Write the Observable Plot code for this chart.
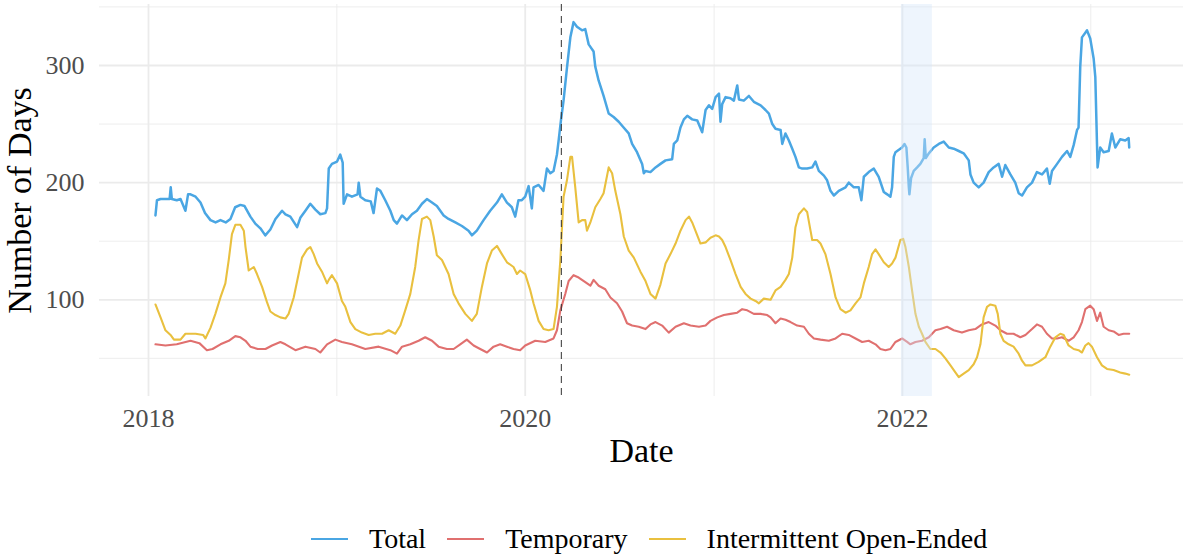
<!DOCTYPE html>
<html>
<head>
<meta charset="utf-8">
<script src="https://cdn.jsdelivr.net/npm/d3@7"></script>
<script src="https://cdn.jsdelivr.net/npm/@observablehq/plot@0.6"></script>
<style>
  body { margin: 0; background: #fff; font-family: "Liberation Serif", "Times New Roman", serif; }
  #chart { position: relative; width: 1186px; height: 556px; }
  #chart svg { display: block; }
  .legend { position: absolute; left: 311px; top: 522px; height: 34px; display: flex; align-items: center; font-size: 28px; color: #000; white-space: nowrap; }
  .legend .item { display: flex; align-items: center; margin-right: 21px; }
  .legend .key { width: 37px; height: 2px; margin-right: 21px; }
</style>
</head>
<body>
<div id="chart"></div>
<script>
// Series labels and colours
const seriesNames = ["Total", "Temporary", "Intermittent Open-Ended"];
const seriesColors = ["#4aa6e3", "#e0706f", "#e9c03f"];

// [decimal year, number of days]
const total = [
  [2018.037,172],[2018.045,185],[2018.064,186],[2018.090,186],[2018.112,186],[2018.118,196],[2018.124,186],
  [2018.150,185],[2018.170,186],[2018.196,176],[2018.210,190],[2018.223,190],[2018.250,188],[2018.276,183],
  [2018.300,174],[2018.329,168],[2018.356,166],[2018.382,168],[2018.410,166],[2018.435,169],[2018.460,179],
  [2018.488,181],[2018.510,180],[2018.541,171],[2018.567,165],[2018.594,161],[2018.620,155],[2018.647,160],
  [2018.674,169],[2018.709,176],[2018.727,173],[2018.753,171],[2018.789,162],[2018.806,170],[2018.833,176],
  [2018.859,182],[2018.886,177],[2018.912,173],[2018.939,174],[2018.948,178],[2018.957,212],[2018.974,216],
  [2019.001,218],[2019.018,224],[2019.031,217],[2019.036,182],[2019.054,190],[2019.080,188],[2019.110,190],
  [2019.116,200],[2019.125,188],[2019.151,185],[2019.180,184],[2019.195,174],[2019.213,195],[2019.231,193],
  [2019.257,185],[2019.284,176],[2019.302,168],[2019.319,165],[2019.346,172],[2019.372,168],[2019.399,173],
  [2019.425,176],[2019.452,182],[2019.478,186],[2019.505,183],[2019.531,180],[2019.567,172],[2019.593,169],
  [2019.629,166],[2019.664,163],[2019.699,159],[2019.717,155],[2019.743,159],[2019.779,168],[2019.814,176],
  [2019.850,183],[2019.876,190],[2019.903,183],[2019.929,179],[2019.947,171],[2019.964,185],[2019.982,185],
  [2020.000,188],[2020.018,197],[2020.035,178],[2020.044,196],[2020.071,198],[2020.097,193],[2020.115,212],
  [2020.133,208],[2020.150,210],[2020.168,224],[2020.177,236],[2020.189,253],[2020.203,270],[2020.221,298],
  [2020.239,324],[2020.256,337],[2020.274,333],[2020.301,330],[2020.318,331],[2020.336,318],[2020.362,312],
  [2020.371,299],[2020.389,287],[2020.415,274],[2020.442,259],[2020.468,256],[2020.495,252],[2020.521,247],
  [2020.548,242],[2020.566,233],[2020.592,226],[2020.619,216],[2020.628,208],[2020.637,210],[2020.663,209],
  [2020.690,213],[2020.716,216],[2020.743,219],[2020.778,220],[2020.787,233],[2020.805,236],[2020.822,247],
  [2020.840,254],[2020.858,257],[2020.884,254],[2020.911,253],[2020.937,243],[2020.955,262],[2020.973,266],
  [2020.990,263],[2021.008,273],[2021.026,276],[2021.034,252],[2021.043,267],[2021.061,273],[2021.087,272],
  [2021.105,270],[2021.123,283],[2021.132,271],[2021.158,270],[2021.185,274],[2021.211,269],[2021.247,266],
  [2021.273,262],[2021.291,259],[2021.309,250],[2021.326,246],[2021.353,245],[2021.362,233],[2021.379,242],
  [2021.397,236],[2021.415,229],[2021.432,222],[2021.450,213],[2021.468,212],[2021.494,212],[2021.521,213],
  [2021.538,218],[2021.556,210],[2021.583,206],[2021.600,202],[2021.618,193],[2021.636,189],[2021.662,193],
  [2021.698,196],[2021.715,200],[2021.742,196],[2021.768,196],[2021.782,185],[2021.795,205],[2021.821,209],
  [2021.848,212],[2021.874,205],[2021.901,192],[2021.919,190],[2021.936,188],[2021.945,196],[2021.954,222],
  [2021.963,226],[2021.981,228],[2021.998,230],[2022.011,233],[2022.021,230],[2022.028,213],[2022.034,196],
  [2022.037,190],[2022.046,204],[2022.060,210],[2022.078,213],[2022.095,216],[2022.113,221],[2022.118,237],
  [2022.124,221],[2022.140,225],[2022.166,230],[2022.193,233],[2022.219,235],[2022.246,230],[2022.272,229],
  [2022.299,227],[2022.325,225],[2022.352,219],[2022.361,207],[2022.378,200],[2022.405,196],[2022.431,200],
  [2022.458,209],[2022.484,213],[2022.511,216],[2022.529,205],[2022.546,215],[2022.573,207],[2022.599,200],
  [2022.617,191],[2022.635,189],[2022.661,196],[2022.688,200],[2022.714,209],[2022.741,207],[2022.767,212],
  [2022.782,199],[2022.794,210],[2022.821,216],[2022.847,222],[2022.874,227],[2022.891,222],[2022.909,232],
  [2022.927,245],[2022.935,247],[2022.944,299],[2022.953,324],[2022.971,328],[2022.980,330],[2022.997,323],
  [2023.015,306],[2023.024,290],[2023.036,213],[2023.050,230],[2023.068,226],[2023.095,227],[2023.112,242],
  [2023.130,230],[2023.156,237],[2023.183,236],[2023.201,238],[2023.204,230]
];

const temporary = [
  [2018.037,62],[2018.090,61],[2018.150,62],[2018.223,65],[2018.270,63],[2018.310,57],[2018.340,58],
  [2018.382,62],[2018.426,65],[2018.461,69],[2018.488,68],[2018.515,65],[2018.541,60],[2018.580,58],
  [2018.621,58],[2018.656,61],[2018.700,64],[2018.727,62],[2018.780,57],[2018.833,60],[2018.886,58],
  [2018.912,55],[2018.948,62],[2018.992,66],[2019.027,64],[2019.080,62],[2019.151,58],[2019.222,60],
  [2019.284,57],[2019.319,54],[2019.346,60],[2019.390,62],[2019.434,65],[2019.469,68],[2019.505,65],
  [2019.540,60],[2019.584,58],[2019.620,58],[2019.655,62],[2019.690,66],[2019.726,61],[2019.761,58],
  [2019.797,55],[2019.832,60],[2019.867,62],[2019.903,60],[2019.938,58],[2019.973,57],[2020.000,61],
  [2020.053,65],[2020.106,64],[2020.150,67],[2020.168,74],[2020.186,91],[2020.212,105],[2020.230,116],
  [2020.256,121],[2020.283,119],[2020.318,115],[2020.345,112],[2020.362,117],[2020.389,112],[2020.424,109],
  [2020.451,102],[2020.486,97],[2020.513,90],[2020.539,80],[2020.566,78],[2020.601,77],[2020.637,75],
  [2020.663,79],[2020.690,81],[2020.725,78],[2020.760,72],[2020.796,77],[2020.840,80],[2020.875,78],
  [2020.920,77],[2020.955,78],[2020.981,82],[2021.017,85],[2021.052,87],[2021.087,88],[2021.123,89],
  [2021.149,92],[2021.176,91],[2021.211,88],[2021.247,88],[2021.282,87],[2021.300,85],[2021.326,80],
  [2021.353,84],[2021.379,83],[2021.406,81],[2021.441,78],[2021.477,77],[2021.503,71],[2021.530,67],
  [2021.565,66],[2021.609,65],[2021.645,67],[2021.680,71],[2021.715,70],[2021.751,67],[2021.786,64],
  [2021.821,65],[2021.857,62],[2021.883,58],[2021.910,57],[2021.936,58],[2021.963,64],[2021.998,67],
  [2022.025,64],[2022.042,62],[2022.069,64],[2022.104,65],[2022.140,68],[2022.175,74],[2022.202,75],
  [2022.237,77],[2022.272,74],[2022.316,72],[2022.352,74],[2022.387,75],[2022.422,79],[2022.458,81],
  [2022.493,78],[2022.520,74],[2022.555,71],[2022.590,71],[2022.626,68],[2022.653,70],[2022.688,75],
  [2022.714,79],[2022.741,77],[2022.767,71],[2022.794,67],[2022.821,67],[2022.847,68],[2022.882,65],
  [2022.909,68],[2022.935,74],[2022.953,81],[2022.971,92],[2022.997,95],[2023.015,92],[2023.033,82],
  [2023.050,89],[2023.068,77],[2023.095,74],[2023.121,73],[2023.148,70],[2023.174,71],[2023.204,71]
];

const intermittent = [
  [2018.037,96],[2018.064,85],[2018.090,74],[2018.117,70],[2018.135,66],[2018.170,66],[2018.196,71],
  [2018.250,71],[2018.290,70],[2018.302,67],[2018.329,76],[2018.355,88],[2018.382,102],[2018.408,114],
  [2018.426,134],[2018.443,156],[2018.461,164],[2018.488,164],[2018.506,159],[2018.515,145],[2018.532,125],
  [2018.559,128],[2018.576,122],[2018.603,111],[2018.629,98],[2018.647,90],[2018.674,87],[2018.700,85],
  [2018.727,84],[2018.744,88],[2018.771,102],[2018.797,122],[2018.815,136],[2018.842,143],[2018.859,145],
  [2018.877,139],[2018.895,131],[2018.921,124],[2018.948,114],[2018.957,117],[2018.974,121],[2019.001,114],
  [2019.027,99],[2019.045,94],[2019.072,81],[2019.098,75],[2019.133,72],[2019.169,70],[2019.204,71],
  [2019.240,71],[2019.275,74],[2019.310,71],[2019.337,78],[2019.363,91],[2019.390,105],[2019.416,128],
  [2019.434,151],[2019.452,169],[2019.478,171],[2019.496,168],[2019.514,154],[2019.531,138],[2019.558,134],
  [2019.593,122],[2019.620,105],[2019.646,97],[2019.682,88],[2019.717,82],[2019.743,88],[2019.770,111],
  [2019.797,131],[2019.823,142],[2019.850,146],[2019.876,139],[2019.903,132],[2019.938,128],[2019.956,122],
  [2019.973,125],[2020.000,122],[2020.027,108],[2020.044,97],[2020.071,82],[2020.097,75],[2020.124,74],
  [2020.150,75],[2020.168,94],[2020.186,134],[2020.203,188],[2020.221,202],[2020.239,222],[2020.248,222],
  [2020.265,196],[2020.283,166],[2020.301,168],[2020.318,168],[2020.327,159],[2020.345,166],[2020.371,179],
  [2020.398,186],[2020.415,191],[2020.442,213],[2020.460,208],[2020.477,193],[2020.504,173],[2020.522,154],
  [2020.548,142],[2020.575,136],[2020.610,124],[2020.637,116],[2020.663,105],[2020.690,101],[2020.716,113],
  [2020.743,131],[2020.769,139],[2020.796,148],[2020.822,159],[2020.849,168],[2020.867,171],[2020.884,166],
  [2020.911,155],[2020.928,148],[2020.955,149],[2020.981,153],[2021.008,155],[2021.026,154],[2021.043,151],
  [2021.061,145],[2021.087,134],[2021.114,122],[2021.141,111],[2021.167,105],[2021.194,101],[2021.220,99],
  [2021.238,97],[2021.264,101],[2021.300,100],[2021.326,108],[2021.353,111],[2021.379,117],[2021.397,122],
  [2021.415,136],[2021.432,162],[2021.450,173],[2021.477,178],[2021.494,175],[2021.512,159],[2021.521,151],
  [2021.547,151],[2021.565,148],[2021.591,139],[2021.618,122],[2021.645,102],[2021.671,92],[2021.698,89],
  [2021.724,91],[2021.751,97],[2021.777,102],[2021.795,114],[2021.821,128],[2021.839,139],[2021.857,143],
  [2021.874,139],[2021.901,132],[2021.927,128],[2021.945,131],[2021.963,136],[2021.989,151],[2022.004,152],
  [2022.016,145],[2022.034,128],[2022.051,108],[2022.069,88],[2022.087,77],[2022.104,71],[2022.122,64],
  [2022.148,58],[2022.175,58],[2022.202,55],[2022.228,50],[2022.255,44],[2022.281,38],[2022.299,34],
  [2022.325,37],[2022.352,40],[2022.378,45],[2022.396,51],[2022.414,62],[2022.431,85],[2022.449,94],
  [2022.467,96],[2022.493,95],[2022.506,88],[2022.520,71],[2022.537,65],[2022.564,62],[2022.590,60],
  [2022.617,54],[2022.635,48],[2022.653,44],[2022.688,44],[2022.723,47],[2022.759,51],[2022.785,60],
  [2022.812,68],[2022.838,71],[2022.856,70],[2022.882,61],[2022.909,58],[2022.935,57],[2022.953,55],
  [2022.971,61],[2022.988,63],[2023.006,60],[2023.033,51],[2023.059,44],[2023.086,41],[2023.121,40],
  [2023.156,38],[2023.183,37],[2023.204,36]
];

// Reference markers
const eventDate = "2020-03-11";
const highlightPeriod = ["2021-12-30", "2022-02-28"];

// Axis ticks and grid
const majorYears = [2018, 2020, 2022];
const minorYears = [2019, 2021, 2023];
const yMajor = [100, 200, 300];
const yMinor = [50, 150, 250, 350];

const yearStart = (y) => new Date(Date.UTC(y, 0, 1));
function fromDecimalYear(t) {
  const y = Math.floor(t);
  const a = Date.UTC(y, 0, 1), b = Date.UTC(y + 1, 0, 1);
  return new Date(a + (t - y) * (b - a));
}

const rows = [];
[total, temporary, intermittent].forEach((s, i) =>
  s.forEach(([t, v]) => rows.push({date: fromDecimalYear(t), value: v, series: seriesNames[i]}))
);

const font = '"Liberation Serif", "Times New Roman", serif';

const chart = Plot.plot({
  width: 1186,
  height: 480,
  marginLeft: 99,
  marginRight: 3,
  marginTop: 4,
  marginBottom: 84,
  style: {fontFamily: font, background: "#fff"},
  x: {type: "utc", domain: [yearStart(2018), yearStart(2023)], range: [148, 1090.3]},
  y: {domain: [0, 350], range: [416.45, 6.4]},
  color: {domain: seriesNames, range: seriesColors},
  marks: [
    Plot.ruleY(yMinor, {stroke: "#ebebeb", strokeWidth: 0.9}),
    Plot.ruleY(yMajor, {stroke: "#ebebeb", strokeWidth: 1.8}),
    Plot.ruleX(minorYears.map(yearStart), {stroke: "#ebebeb", strokeWidth: 0.9}),
    Plot.ruleX(majorYears.map(yearStart), {stroke: "#ebebeb", strokeWidth: 1.8}),
    Plot.line(rows, {
      x: "date", y: "value", z: "series", stroke: "series",
      strokeWidth: (d) => d.series === "Total" ? 2.5 : 2.1,
      strokeLinejoin: "round"
    }),
    Plot.rect([highlightPeriod], {
      x1: (d) => new Date(d[0]),
      x2: (d) => new Date(d[1]),
      fill: "#d4e6fa",
      fillOpacity: 0.4
    }),
    Plot.ruleX([new Date(eventDate)], {stroke: "#333", strokeWidth: 1, strokeDasharray: "7,5"}),
    Plot.axisX({
      ticks: majorYears.map(yearStart),
      tickFormat: d3.utcFormat("%Y"),
      tickSize: 0,
      tickPadding: 12.5,
      fontSize: 26,
      color: "#4d4d4d",
      label: null
    }),
    Plot.axisY({
      ticks: yMajor,
      tickSize: 0,
      tickPadding: 15,
      fontSize: 26,
      color: "#4d4d4d",
      label: null
    }),
    Plot.text(["Date"], {frameAnchor: "bottom", dy: 65, lineAnchor: "bottom", fontSize: 34, fill: "#000"}),
    Plot.text(["Number of Days"], {
      frameAnchor: "left", textAnchor: "middle", dx: -69, rotate: -90,
      lineAnchor: "bottom", fontSize: 34, fill: "#000"
    })
  ]
});

const root = document.getElementById("chart");
root.appendChild(chart);

// Legend below the plot
const legend = document.createElement("div");
legend.className = "legend";
seriesNames.forEach((name, i) => {
  const item = document.createElement("div");
  item.className = "item";
  const key = document.createElement("span");
  key.className = "key";
  key.style.background = seriesColors[i];
  const label = document.createElement("span");
  label.textContent = name;
  item.appendChild(key);
  item.appendChild(label);
  legend.appendChild(item);
});
root.appendChild(legend);
</script>
</body>
</html>
